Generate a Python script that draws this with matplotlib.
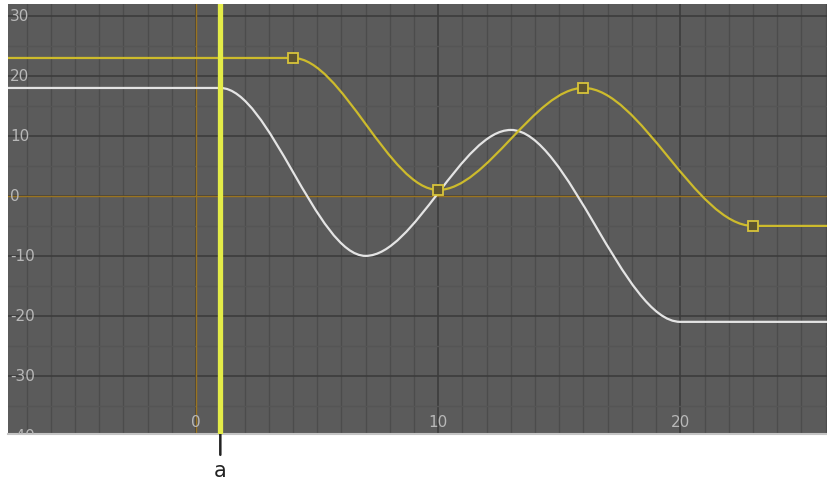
import numpy as np
import matplotlib.pyplot as plt
from matplotlib.path import Path
from matplotlib.patches import PathPatch
from matplotlib.ticker import MultipleLocator

# keyframes (frame, value)
white_frames = [1, 7, 13, 20]
white_values = [18, -10, 11, -21]
yellow_frames = [4, 10, 16, 23]
yellow_values = [23, 1, 18, -5]
current_frame = 1
xticks = [0, 10, 20]
yticks = [-40, -30, -20, -10, 0, 10, 20, 30]

xmin, xmax = -7.77, 26.1
ymin, ymax = -39.7, 32.0

bg = '#5b5b5b'


def key_path(frames, values):
    # flat-tangent bezier between keys, constant outside the key range
    verts = [(xmin, values[0]), (frames[0], values[0])]
    codes = [Path.MOVETO, Path.LINETO]
    for i in range(len(frames) - 1):
        x0, x1 = frames[i], frames[i + 1]
        y0, y1 = values[i], values[i + 1]
        d = (x1 - x0) / 3.0
        verts += [(x0 + d, y0), (x1 - d, y1), (x1, y1)]
        codes += [Path.CURVE4] * 3
    verts.append((xmax, values[-1]))
    codes.append(Path.LINETO)
    return Path(verts, codes)


fig = plt.figure(figsize=(8.28, 4.81), dpi=100)
ax = fig.add_axes([8 / 828, 46 / 481, 820 / 828, 430 / 481])
ax.set_facecolor(bg)
ax.set_xlim(xmin, xmax)
ax.set_ylim(ymin, ymax)

# grid
ax.xaxis.set_minor_locator(MultipleLocator(1))
ax.xaxis.set_major_locator(MultipleLocator(10))
ax.yaxis.set_minor_locator(MultipleLocator(5))
ax.yaxis.set_major_locator(MultipleLocator(10))
ax.grid(which='minor', axis='x', color='#4c4c4c', lw=1.0)
ax.grid(which='minor', axis='y', color='#555555', lw=1.0)
ax.grid(which='major', color='#3c3c3c', lw=1.2)
ax.set_axisbelow(True)
ax.tick_params(which='both', length=0, labelbottom=False, labelleft=False)
for s in ['top', 'left', 'right']:
    ax.spines[s].set_visible(False)
ax.spines['bottom'].set_color('#c4c4c4')
ax.spines['bottom'].set_linewidth(1.5)

# zero lines
ax.axhline(0, color='#9a7420', lw=1.0, zorder=1)
ax.axvline(0, color='#9a7420', lw=1.0, zorder=1)

# tick labels drawn inside the plot
for v in yticks:
    ax.text(2 / 820, v, str(v), transform=ax.get_yaxis_transform(),
            ha='left', va='center', color='#b8b8b8', fontsize=11, clip_on=True)
for v in xticks:
    ax.text(v, 0.03, str(v), transform=ax.get_xaxis_transform(),
            ha='center', va='center', color='#b8b8b8', fontsize=11)

# curves
ax.add_patch(PathPatch(key_path(white_frames, white_values), fill=False,
                       edgecolor='#e4e4e4', lw=1.6, zorder=3))
ax.add_patch(PathPatch(key_path(yellow_frames, yellow_values), fill=False,
                       edgecolor='#cdbb2c', lw=1.6, zorder=3))
ax.plot(yellow_frames, yellow_values, 's', ms=7, mfc='#5e5530',
        mec='#d8c43a', mew=1.3, zorder=4)

# time slider
ax.axvline(current_frame, color='#e4ec48', lw=3.8, zorder=5)
ax.annotate('', xy=(current_frame, 0), xycoords=('data', 'axes fraction'),
            xytext=(0, -15), textcoords='offset points', annotation_clip=False,
            arrowprops=dict(arrowstyle='-', color='#222222', lw=1.8,
                            shrinkA=0, shrinkB=0))
ax.annotate('a', xy=(current_frame, 0), xycoords=('data', 'axes fraction'),
            xytext=(0, -30.5), textcoords='offset points', ha='center',
            va='baseline', fontsize=15, color='#222222', annotation_clip=False)

fig.savefig('out.png', dpi=100, facecolor='white')
